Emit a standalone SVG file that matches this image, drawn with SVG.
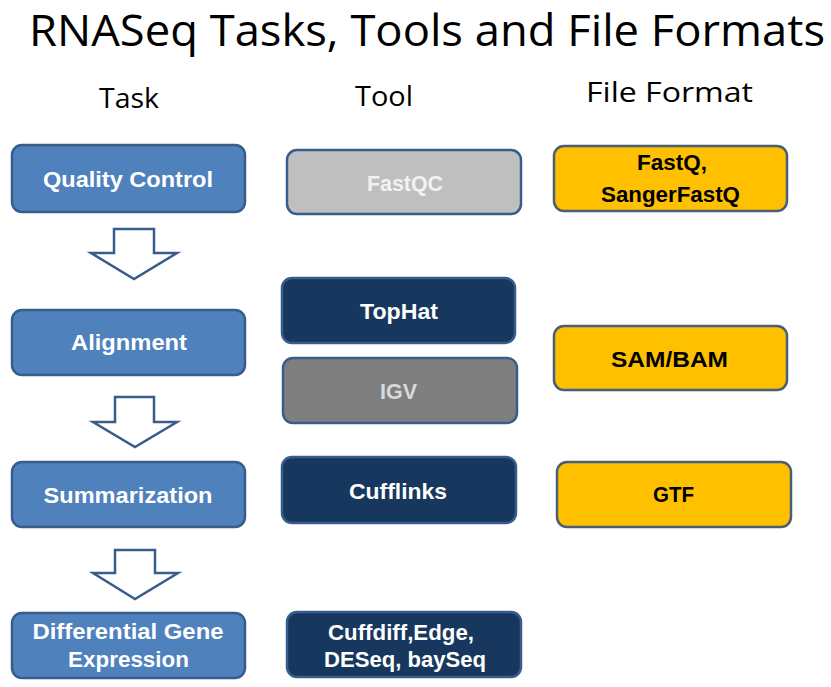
<svg xmlns="http://www.w3.org/2000/svg" width="831" height="687" viewBox="0 0 831 687">
<style>
  text { font-family: "Open Sans", "Liberation Sans", sans-serif; text-anchor: middle; }
  .title { font-size: 43px; fill: #000; }
  .head { font-size: 27px; fill: #000; }
  .lbl { font-family: "Liberation Sans", Arial, sans-serif; font-size: 22px; font-weight: bold; }
  .task rect { fill: #4F81BD; stroke: #385D8A; stroke-width: 2.5; }
  .task text { fill: #FFFFFF; }
  .dark rect { fill: #17375E; stroke: #385D8A; stroke-width: 2.5; }
  .dark text { fill: #FFFFFF; }
  .light rect { fill: #BFBFBF; stroke: #385D8A; stroke-width: 2.5; }
  .light text { fill: #F2F2F2; }
  .grey rect { fill: #7F7F7F; stroke: #385D8A; stroke-width: 2.5; }
  .grey text { fill: #D9D9D9; }
  .fmt rect { fill: #FFC000; stroke: #4A5E78; stroke-width: 2.5; }
  .fmt text { fill: #000000; }
  .arrow { fill: #FFFFFF; stroke: #385D8A; stroke-width: 2.5; stroke-linejoin: miter; }
</style>

<text class="title" x="427" y="46" textLength="796" lengthAdjust="spacingAndGlyphs">RNASeq Tasks, Tools and File Formats</text>
<text class="head" x="129" y="108" textLength="60" lengthAdjust="spacingAndGlyphs">Task</text>
<text class="head" x="384" y="106" textLength="58" lengthAdjust="spacingAndGlyphs">Tool</text>
<text class="head" x="669.5" y="102" textLength="167" lengthAdjust="spacingAndGlyphs">File Format</text>

<g id="connectors">
  <polygon class="arrow" points="114,229 154,229 154,253 177,253 134,279 91,253 114,253"/>
  <polygon class="arrow" points="115,397 154,397 154,422 177,422 135,447 93,422 115,422"/>
  <polygon class="arrow" points="115,550 155,550 155,573 178,573 135,599 93,573 115,573"/>
</g>

<g id="task-quality-control" class="task">
  <rect x="12" y="145" width="233" height="67" rx="10"/>
  <text class="lbl" x="128" y="187" textLength="170" lengthAdjust="spacingAndGlyphs">Quality Control</text>
</g>
<g id="task-alignment" class="task">
  <rect x="12" y="310" width="233" height="65" rx="10"/>
  <text class="lbl" x="129" y="350" textLength="116" lengthAdjust="spacingAndGlyphs">Alignment</text>
</g>
<g id="task-summarization" class="task">
  <rect x="12" y="462" width="233" height="65" rx="10"/>
  <text class="lbl" x="128" y="503" textLength="169" lengthAdjust="spacingAndGlyphs">Summarization</text>
</g>
<g id="task-dge" class="task">
  <rect x="12" y="613" width="233" height="65" rx="10"/>
  <text class="lbl" x="128" y="639" textLength="191" lengthAdjust="spacingAndGlyphs">Differential Gene</text>
  <text class="lbl" x="128.5" y="667" textLength="121" lengthAdjust="spacingAndGlyphs">Expression</text>
</g>

<g id="tool-fastqc" class="light">
  <rect x="287" y="150" width="234" height="64" rx="10"/>
  <text class="lbl" x="405" y="191" textLength="76" lengthAdjust="spacingAndGlyphs">FastQC</text>
</g>
<g id="tool-tophat" class="dark">
  <rect x="282" y="278" width="233" height="65" rx="10"/>
  <text class="lbl" x="399" y="319" textLength="78" lengthAdjust="spacingAndGlyphs">TopHat</text>
</g>
<g id="tool-igv" class="grey">
  <rect x="283" y="358" width="234" height="65" rx="10"/>
  <text class="lbl" x="398.5" y="399" textLength="37" lengthAdjust="spacingAndGlyphs">IGV</text>
</g>
<g id="tool-cufflinks" class="dark">
  <rect x="282" y="457" width="234" height="66" rx="10"/>
  <text class="lbl" x="398" y="499" textLength="98" lengthAdjust="spacingAndGlyphs">Cufflinks</text>
</g>
<g id="tool-cuffdiff" class="dark">
  <rect x="287" y="612" width="234" height="65" rx="10"/>
  <text class="lbl" x="401" y="640" textLength="146" lengthAdjust="spacingAndGlyphs">Cuffdiff,Edge,</text>
  <text class="lbl" x="405" y="667" textLength="162" lengthAdjust="spacingAndGlyphs">DESeq, baySeq</text>
</g>

<g id="format-fastq" class="fmt">
  <rect x="554" y="146" width="233" height="65" rx="10"/>
  <text class="lbl" x="672" y="170" textLength="70" lengthAdjust="spacingAndGlyphs">FastQ,</text>
  <text class="lbl" x="670.5" y="202" textLength="139" lengthAdjust="spacingAndGlyphs">SangerFastQ</text>
</g>
<g id="format-sambam" class="fmt">
  <rect x="554" y="326" width="233" height="64" rx="10"/>
  <text class="lbl" x="669.5" y="367" textLength="117" lengthAdjust="spacingAndGlyphs">SAM/BAM</text>
</g>
<g id="format-gtf" class="fmt">
  <rect x="557" y="462" width="234" height="65" rx="10"/>
  <text class="lbl" x="673.5" y="502" textLength="41" lengthAdjust="spacingAndGlyphs">GTF</text>
</g>
</svg>
